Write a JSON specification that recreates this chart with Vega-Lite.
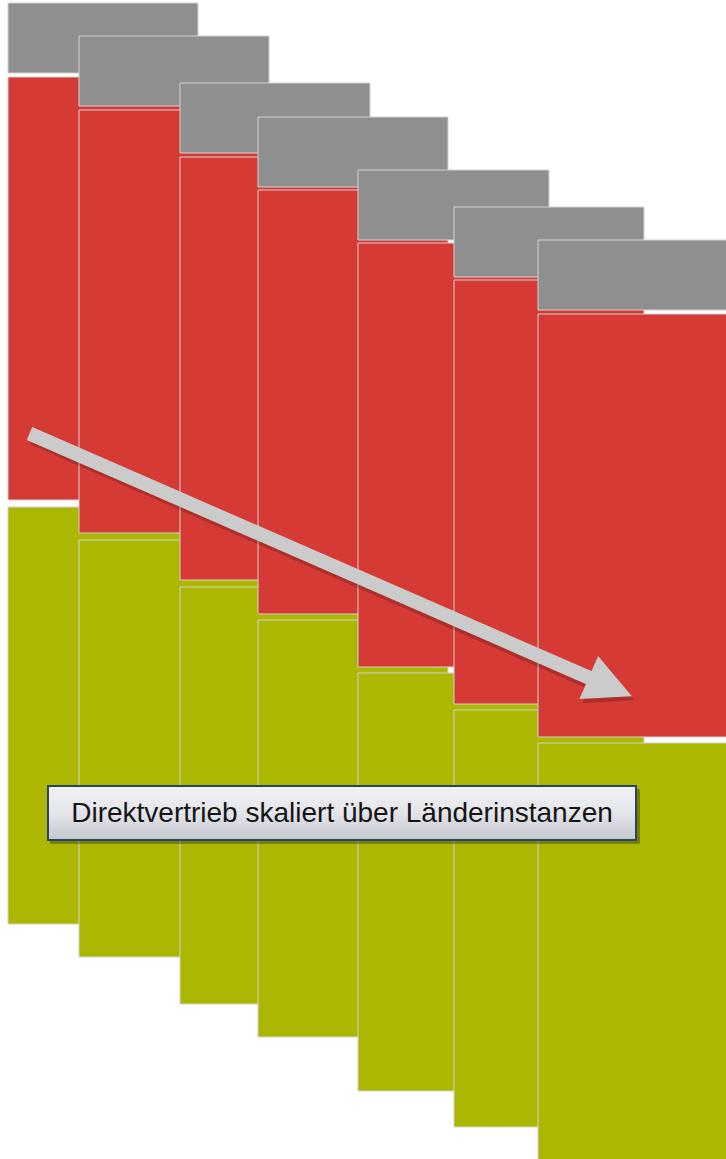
{
  "$schema": "https://vega.github.io/schema/vega-lite/v6.json",
  "width": 726,
  "height": 1159,
  "autosize": {"type": "none"},
  "padding": 0,
  "background": "white",
  "config": {"view": {"stroke": null}},
  "layer": [
    {
      "data": {"values": [
        {"col": 1, "part": "grau", "x0": 8, "x1": 198, "y0": 3, "y1": 73},
        {"col": 1, "part": "rot", "x0": 8, "x1": 198, "y0": 77, "y1": 500},
        {"col": 1, "part": "gruen", "x0": 8, "x1": 198, "y0": 507, "y1": 924},
        {"col": 2, "part": "grau", "x0": 79, "x1": 269, "y0": 36, "y1": 106},
        {"col": 2, "part": "rot", "x0": 79, "x1": 269, "y0": 110, "y1": 533},
        {"col": 2, "part": "gruen", "x0": 79, "x1": 269, "y0": 540, "y1": 957},
        {"col": 3, "part": "grau", "x0": 180, "x1": 370, "y0": 83, "y1": 153},
        {"col": 3, "part": "rot", "x0": 180, "x1": 370, "y0": 157, "y1": 580},
        {"col": 3, "part": "gruen", "x0": 180, "x1": 370, "y0": 587, "y1": 1004},
        {"col": 4, "part": "grau", "x0": 258, "x1": 448, "y0": 117, "y1": 187},
        {"col": 4, "part": "rot", "x0": 258, "x1": 448, "y0": 190, "y1": 614},
        {"col": 4, "part": "gruen", "x0": 258, "x1": 448, "y0": 620, "y1": 1037},
        {"col": 5, "part": "grau", "x0": 358, "x1": 549, "y0": 170, "y1": 240},
        {"col": 5, "part": "rot", "x0": 358, "x1": 549, "y0": 243, "y1": 667},
        {"col": 5, "part": "gruen", "x0": 358, "x1": 549, "y0": 673, "y1": 1091},
        {"col": 6, "part": "grau", "x0": 454, "x1": 644, "y0": 207, "y1": 277},
        {"col": 6, "part": "rot", "x0": 454, "x1": 644, "y0": 280, "y1": 704},
        {"col": 6, "part": "gruen", "x0": 454, "x1": 644, "y0": 710, "y1": 1127},
        {"col": 7, "part": "grau", "x0": 538, "x1": 728, "y0": 240, "y1": 310},
        {"col": 7, "part": "rot", "x0": 538, "x1": 728, "y0": 314, "y1": 737},
        {"col": 7, "part": "gruen", "x0": 538, "x1": 728, "y0": 743, "y1": 1162}
      ]},
      "mark": {"type": "rect", "stroke": "#d2d2d2", "strokeWidth": 1},
      "encoding": {
        "x": {"field": "x0", "type": "quantitative", "scale": {"domain": [0, 726], "nice": false, "zero": false}, "axis": null},
        "x2": {"field": "x1"},
        "y": {"field": "y0", "type": "quantitative", "scale": {"domain": [0, 1159], "nice": false, "zero": false, "reverse": true}, "axis": null},
        "y2": {"field": "y1"},
        "color": {"field": "part", "type": "nominal", "scale": {"domain": ["grau", "rot", "gruen"], "range": ["#8f8f8f", "#d53a34", "#abb700"]}, "legend": null}
      }
    },
    {
      "data": {"values": [{"px": 33, "py": 438}, {"px": 594, "py": 684}]},
      "mark": {"type": "line", "stroke": "#000000", "strokeWidth": 14, "strokeCap": "butt", "opacity": 0.18},
      "encoding": {
        "x": {"field": "px", "type": "quantitative"},
        "y": {"field": "py", "type": "quantitative"}
      }
    },
    {
      "data": {"values": [{"px": 29.5, "py": 433.5}, {"px": 592, "py": 679}]},
      "mark": {"type": "line", "stroke": "#cbcbcb", "strokeWidth": 14, "strokeCap": "butt"},
      "encoding": {
        "x": {"field": "px", "type": "quantitative"},
        "y": {"field": "py", "type": "quantitative"}
      }
    },
    {
      "data": {"values": [{"px": 613, "py": 691}]},
      "mark": {"type": "point", "shape": "M-1,-1L1,0L-1,1Z", "filled": true, "color": "#000000", "opacity": 0.18, "size": 2209, "angle": 23.5, "strokeWidth": 0},
      "encoding": {
        "x": {"field": "px", "type": "quantitative"},
        "y": {"field": "py", "type": "quantitative"}
      }
    },
    {
      "data": {"values": [{"px": 610.3, "py": 686.8}]},
      "mark": {"type": "point", "shape": "M-1,-1L1,0L-1,1Z", "filled": true, "color": "#cbcbcb", "opacity": 1, "size": 2209, "angle": 23.5, "strokeWidth": 0},
      "encoding": {
        "x": {"field": "px", "type": "quantitative"},
        "y": {"field": "py", "type": "quantitative"}
      }
    },
    {
      "data": {"values": [{"bx0": 50, "bx1": 640, "by0": 789, "by1": 844}]},
      "mark": {"type": "rect", "color": "#000000", "opacity": 0.3},
      "encoding": {
        "x": {"field": "bx0", "type": "quantitative"},
        "x2": {"field": "bx1"},
        "y": {"field": "by0", "type": "quantitative"},
        "y2": {"field": "by1"}
      }
    },
    {
      "data": {"values": [{"bx0": 48, "bx1": 636, "by0": 786, "by1": 840}]},
      "mark": {
        "type": "rect",
        "stroke": "#27456a",
        "strokeWidth": 2,
        "fill": {"gradient": "linear", "x1": 0, "y1": 0, "x2": 0, "y2": 1, "stops": [{"offset": 0, "color": "#f2f2f5"}, {"offset": 0.5, "color": "#e4e5ea"}, {"offset": 1, "color": "#c5c7cf"}]}
      },
      "encoding": {
        "x": {"field": "bx0", "type": "quantitative"},
        "x2": {"field": "bx1"},
        "y": {"field": "by0", "type": "quantitative"},
        "y2": {"field": "by1"}
      }
    },
    {
      "data": {"values": [{"tx": 342, "ty": 814, "label": "Direktvertrieb skaliert über Länderinstanzen"}]},
      "mark": {"type": "text", "font": "Liberation Sans", "fontSize": 28, "color": "#151515", "align": "center", "baseline": "middle"},
      "encoding": {
        "x": {"field": "tx", "type": "quantitative"},
        "y": {"field": "ty", "type": "quantitative"},
        "text": {"field": "label", "type": "nominal"}
      }
    }
  ]
}
